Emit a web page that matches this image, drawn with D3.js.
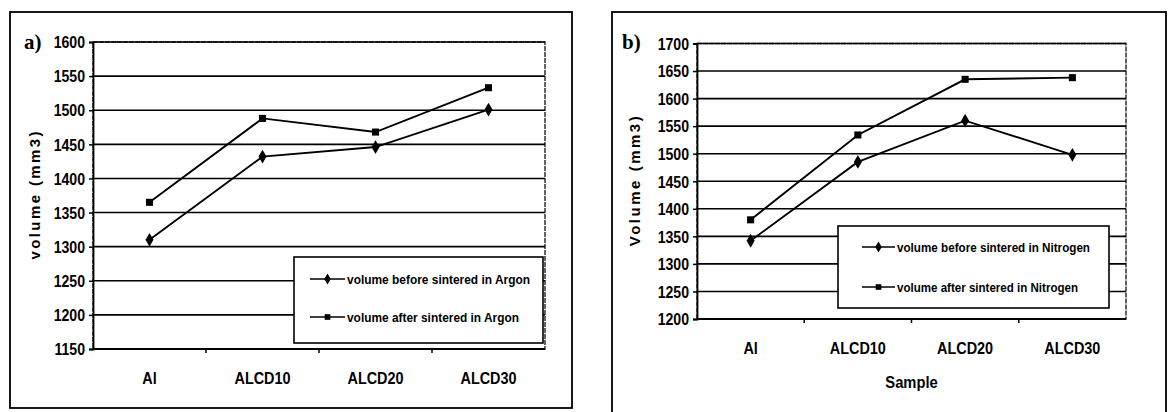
<!DOCTYPE html>
<html>
<head>
<meta charset="utf-8">
<script src="https://cdn.jsdelivr.net/npm/d3@7"></script>
<style>
  html, body { margin: 0; padding: 0; background: #fff; }
  svg { display: block; }
  text { font-family: Arial, "Liberation Sans", sans-serif; fill: #000; }
</style>
</head>
<body>
<svg id="chart" width="1169" height="412"></svg>
<script>
// Sample names shared by both panels
const categories = ["Al", "ALCD10", "ALCD20", "ALCD30"];

// Volumes (mm3) for samples sintered in argon
const argonBefore = [1310, 1432, 1446, 1501];
const argonAfter  = [1365, 1488, 1468, 1533];

// Volumes (mm3) for samples sintered in nitrogen
const nitrogenBefore = [1342, 1485, 1560, 1498];
const nitrogenAfter  = [1380, 1534, 1635, 1638];

// Value-axis ticks
const argonTicks    = [1150, 1200, 1250, 1300, 1350, 1400, 1450, 1500, 1550, 1600];
const nitrogenTicks = [1200, 1250, 1300, 1350, 1400, 1450, 1500, 1550, 1600, 1650, 1700];

// Legend entries
const argonLegend    = ["volume before sintered in Argon", "volume after sintered in Argon"];
const nitrogenLegend = ["volume before sintered in Nitrogen", "volume after sintered in Nitrogen"];

const svg = d3.select("#chart");

// squeeze text horizontally so the heavy, narrow lettering fits
function condense(sel, factor) {
  sel.each(function () {
    const w = this.getComputedTextLength();
    d3.select(this).attr("textLength", w * factor).attr("lengthAdjust", "spacingAndGlyphs");
  });
}

function drawPanel(cfg) {
  const g = svg.append("g");

  // outer frame
  g.append("rect")
    .attr("x", cfg.frame[0]).attr("y", cfg.frame[1])
    .attr("width", cfg.frame[2] - cfg.frame[0]).attr("height", cfg.frame[3] - cfg.frame[1])
    .attr("fill", "none").attr("stroke", "#000").attr("stroke-width", 1.8);

  const x = d3.scaleBand().domain(categories).range([cfg.plot.left, cfg.plot.right]);
  const y = d3.scaleLinear().domain(cfg.domain).range([cfg.plot.bottom, cfg.plot.top]);

  // plot-area border
  g.append("rect")
    .attr("x", cfg.plot.left).attr("y", cfg.plot.top)
    .attr("width", cfg.plot.right - cfg.plot.left).attr("height", cfg.plot.bottom - cfg.plot.top)
    .attr("fill", "none").attr("stroke", "#222").attr("stroke-width", 1.4)
    .attr("stroke-dasharray", "5,1");

  // horizontal gridlines
  g.append("g").selectAll("line").data(cfg.ticks).join("line")
    .attr("x1", cfg.plot.left).attr("x2", cfg.plot.right)
    .attr("y1", d => y(d)).attr("y2", d => y(d))
    .attr("stroke", "#000").attr("stroke-width", 1.6);

  // value axis
  const yAxis = g.append("g")
    .attr("transform", `translate(${cfg.plot.left},0)`)
    .call(d3.axisLeft(y).tickValues(cfg.ticks).tickSize(4).tickPadding(4).tickFormat(d3.format("d")));
  yAxis.select(".domain").attr("stroke", "#000").attr("stroke-width", 1.8);
  yAxis.selectAll(".tick line").attr("stroke", "#000").attr("stroke-width", 1.5);
  yAxis.selectAll(".tick text")
    .attr("font-size", 16).attr("font-weight", "bold")
    .attr("font-family", "Arial, 'Liberation Sans', sans-serif")
    .attr("dy", "0.36em")
    .call(condense, 0.88);

  // category axis: ticks between categories
  const cx = g.append("g");
  cx.append("line")
    .attr("x1", cfg.plot.left).attr("x2", cfg.plot.right)
    .attr("y1", cfg.plot.bottom).attr("y2", cfg.plot.bottom)
    .attr("stroke", "#000").attr("stroke-width", 1.8);
  cx.selectAll("line.sep").data(categories.slice(1)).join("line")
    .attr("class", "sep")
    .attr("x1", d => x(d)).attr("x2", d => x(d))
    .attr("y1", cfg.plot.bottom).attr("y2", cfg.plot.bottom + 4)
    .attr("stroke", "#000").attr("stroke-width", 1.5);
  cx.selectAll("text").data(categories).join("text")
    .attr("x", d => x(d) + x.bandwidth() / 2)
    .attr("y", cfg.xLabelY)
    .attr("text-anchor", "middle")
    .attr("font-size", 16).attr("font-weight", "bold")
    .text(d => d)
    .call(condense, 0.9);

  // series lines and markers
  const line = d3.line()
    .x((d, i) => x(categories[i]) + x.bandwidth() / 2)
    .y(d => y(d));

  const diamond = d3.symbol().type(d3.symbolDiamond).size(55);
  const square = d3.symbol().type(d3.symbolSquare).size(50);

  cfg.series.forEach(s => {
    g.append("path").datum(s.values)
      .attr("d", line).attr("fill", "none")
      .attr("stroke", "#000").attr("stroke-width", 1.9);
    g.append("g").selectAll("path").data(s.values).join("path")
      .attr("transform", (d, i) => `translate(${x(categories[i]) + x.bandwidth() / 2},${y(d)})`)
      .attr("d", s.marker === "diamond" ? diamond : square)
      .attr("fill", "#000");
  });

  // legend
  const L = cfg.legend;
  g.append("rect")
    .attr("x", L.x).attr("y", L.y).attr("width", L.w).attr("height", L.h)
    .attr("fill", "#fff").attr("stroke", "#000").attr("stroke-width", 1.6);
  const small = {
    diamond: d3.symbol().type(d3.symbolDiamond).size(36),
    square: d3.symbol().type(d3.symbolSquare).size(32)
  };
  cfg.series.forEach((s, i) => {
    const ly = L.rows[i];
    g.append("line")
      .attr("x1", L.lineX[0]).attr("x2", L.lineX[1])
      .attr("y1", ly).attr("y2", ly)
      .attr("stroke", "#000").attr("stroke-width", 1.5);
    g.append("path")
      .attr("transform", `translate(${(L.lineX[0] + L.lineX[1]) / 2},${ly})`)
      .attr("d", small[s.marker]).attr("fill", "#000");
    g.append("text")
      .attr("x", L.textX).attr("y", ly + 4.5)
      .attr("font-size", 12.5).attr("font-weight", "bold")
      .attr("textLength", L.textLen[i]).attr("lengthAdjust", "spacingAndGlyphs")
      .text(s.name);
  });

  // value-axis title
  const yMid = (cfg.plot.top + cfg.plot.bottom) / 2;
  g.append("text")
    .attr("transform", `translate(${cfg.yTitleX},${yMid}) rotate(-90)`)
    .attr("text-anchor", "middle")
    .attr("dy", "0.35em")
    .attr("font-size", 15).attr("font-weight", "bold")
    .attr("textLength", cfg.yTitleLen).attr("lengthAdjust", "spacing")
    .text(cfg.yTitle);

  // category-axis title
  if (cfg.xTitle) {
    g.append("text")
      .attr("x", (cfg.plot.left + cfg.plot.right) / 2)
      .attr("y", cfg.xTitleY)
      .attr("text-anchor", "middle")
      .attr("font-size", 16).attr("font-weight", "bold")
      .text(cfg.xTitle)
      .call(condense, 0.92);
  }

  // panel letter
  g.append("text")
    .attr("x", cfg.tag.x).attr("y", cfg.tag.y)
    .style("font-family", "'Liberation Serif', 'DejaVu Serif', serif")
    .attr("font-size", 21).attr("font-weight", "bold")
    .text(cfg.tag.text);
}

drawPanel({
  frame: [10, 12, 572, 408],
  plot: { left: 93, right: 545, top: 42, bottom: 349 },
  domain: [1150, 1600],
  ticks: argonTicks,
  xLabelY: 384,
  series: [
    { name: argonLegend[0], values: argonBefore, marker: "diamond" },
    { name: argonLegend[1], values: argonAfter, marker: "square" }
  ],
  legend: { x: 294, y: 257, w: 249, h: 86, rows: [279, 317], lineX: [310, 345], textX: 347, textLen: [183, 172] },
  yTitle: "volume (mm3)", yTitleX: 35, yTitleLen: 128,
  tag: { text: "a)", x: 24, y: 49 }
});

drawPanel({
  frame: [612, 12, 1166, 440],
  plot: { left: 697, right: 1126, top: 43.5, bottom: 319 },
  domain: [1200, 1700],
  ticks: nitrogenTicks,
  xLabelY: 354,
  series: [
    { name: nitrogenLegend[0], values: nitrogenBefore, marker: "diamond" },
    { name: nitrogenLegend[1], values: nitrogenAfter, marker: "square" }
  ],
  legend: { x: 838, y: 226, w: 271, h: 82, rows: [247, 287], lineX: [862, 895], textX: 897, textLen: [193, 181] },
  yTitle: "Volume (mm3)", yTitleX: 635, yTitleLen: 130,
  xTitle: "Sample", xTitleY: 388,
  tag: { text: "b)", x: 622, y: 49 }
});
</script>
</body>
</html>
